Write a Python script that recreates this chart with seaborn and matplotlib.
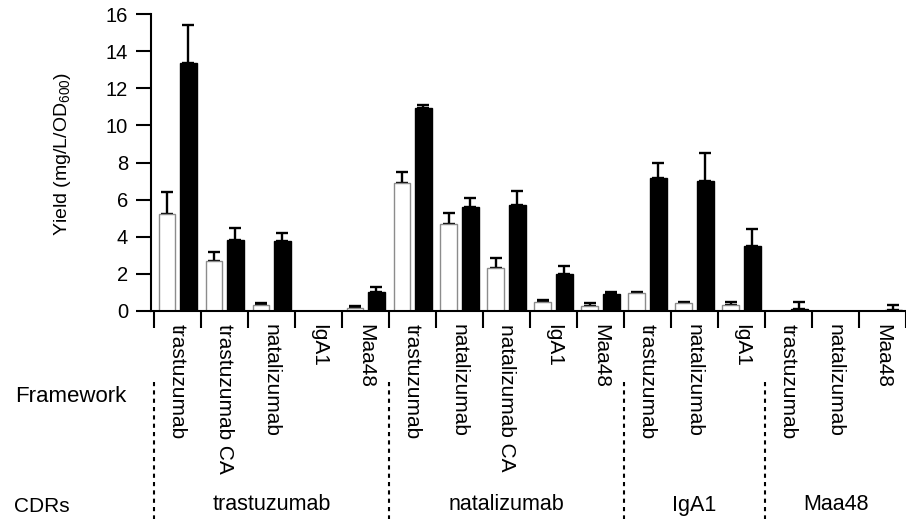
import numpy as np
import pandas as pd
import matplotlib
matplotlib.use("Agg")
import matplotlib.pyplot as plt
import matplotlib.transforms as mtransforms
import seaborn as sns

# framework of each construct (x categories, left to right)
frameworks = ["trastuzumab", "trastuzumab CA", "natalizumab", "IgA1", "Maa48",
              "trastuzumab", "natalizumab", "natalizumab CA", "IgA1", "Maa48",
              "trastuzumab", "natalizumab", "IgA1",
              "trastuzumab", "natalizumab", "Maa48"]
# CDR groups and how many frameworks each one spans
cdr_names = ["trastuzumab", "natalizumab", "IgA1", "Maa48"]
cdr_sizes = [5, 5, 3, 3]

# yields (mg/L/OD600): open bars and filled bars, with upper error
open_mean = [5.2, 2.7, 0.32, 0.0, 0.16, 6.9, 4.7, 2.3, 0.5, 0.28, 0.98, 0.41, 0.35, 0.0, 0.0, 0.0]
open_err = [1.2, 0.48, 0.11, 0.0, 0.11, 0.6, 0.6, 0.54, 0.11, 0.15, 0.07, 0.1, 0.11, 0.0, 0.0, 0.0]
filled_mean = [13.36, 3.85, 3.77, 0.0, 1.02, 10.94, 5.6, 5.7, 1.97, 0.89, 7.14, 6.98, 3.48, 0.13, 0.0, 0.08]
filled_err = [2.05, 0.62, 0.43, 0.0, 0.28, 0.17, 0.48, 0.76, 0.48, 0.16, 0.86, 1.55, 0.96, 0.33, 0.0, 0.22]

n = len(frameworks)
df = pd.DataFrame({
    "slot": list(range(n)) * 2,
    "kind": ["open"] * n + ["filled"] * n,
    "yield": open_mean + filled_mean,
})

sns.set_style("ticks")
plt.rcParams["font.family"] = ["Liberation Sans", "DejaVu Sans"]
plt.rcParams["mathtext.default"] = "regular"
plt.rcParams["text.color"] = "black"
plt.rcParams["axes.labelcolor"] = "black"

fig = plt.figure(figsize=(9.06, 5.19), dpi=100)
ax = fig.add_axes([151 / 906, (519 - 311) / 519, 755 / 906, (311 - 14) / 519])

sns.barplot(data=df, x="slot", y="yield", hue="kind", hue_order=["open", "filled"],
            palette={"open": "white", "filled": "black"}, width=0.9, gap=0.2,
            errorbar=None, legend=False, ax=ax, zorder=2)

# edge colours + one-sided error bars
for cont, errs, ec in zip(ax.containers, [open_err, filled_err], ["0.55", "black"]):
    for bar, e in zip(cont, errs):
        bar.set_edgecolor(ec)
        bar.set_linewidth(1.0)
        if e > 0:
            xc = bar.get_x() + bar.get_width() / 2
            ax.errorbar(xc, bar.get_height(), yerr=[[0], [e]], fmt="none",
                        ecolor="black", elinewidth=1.7, capsize=4.5, capthick=1.7, zorder=1)

ax.set_xlim(-0.565, 15.45)
ax.set_ylim(0, 16)
ax.set_yticks(np.arange(0, 17, 2))
ax.tick_params(axis="y", length=10.5, width=1.5, labelsize=14.5, pad=6)
ax.set_ylabel("Yield (mg/L/OD$_{600}$)", fontsize=14)
ax.yaxis.set_label_coords(-0.103, 0.53)

ax.set_xticks(range(n))
ax.set_xticklabels(frameworks, rotation=270, fontsize=15)
ax.tick_params(axis="x", which="major", length=0, pad=9)
ax.set_xticks(np.arange(-0.5, n + 0.5, 1), minor=True)
ax.tick_params(axis="x", which="minor", length=12, width=1.5, direction="out")
ax.set_xlabel("")

sns.despine(ax=ax)
for s in ["left", "bottom"]:
    ax.spines[s].set_linewidth(1.5)
    ax.spines[s].set_color("black")
ax.tick_params(which="both", colors="black")

# framework / CDR annotation below the axis
trans = mtransforms.blended_transform_factory(ax.transData, fig.transFigure)
fig.text(15 / 906, (519 - 397) / 519, "Framework", fontsize=16, va="center", ha="left")
fig.text(14 / 906, (519 - 506) / 519, "CDRs", fontsize=15, va="center", ha="left")
start = 0
for name, size in zip(cdr_names, cdr_sizes):
    ax.plot([start - 0.5, start - 0.5], [(519 - 382) / 519, 0], transform=trans,
            color="black", lw=1.5, linestyle=(0, (2, 2)), clip_on=False)
    ax.text(start + size / 2 - 0.5, (519 - 505) / 519, name, transform=trans,
            fontsize=15.5, ha="center", va="center")
    start += size

fig.savefig("out.png", dpi=100)
